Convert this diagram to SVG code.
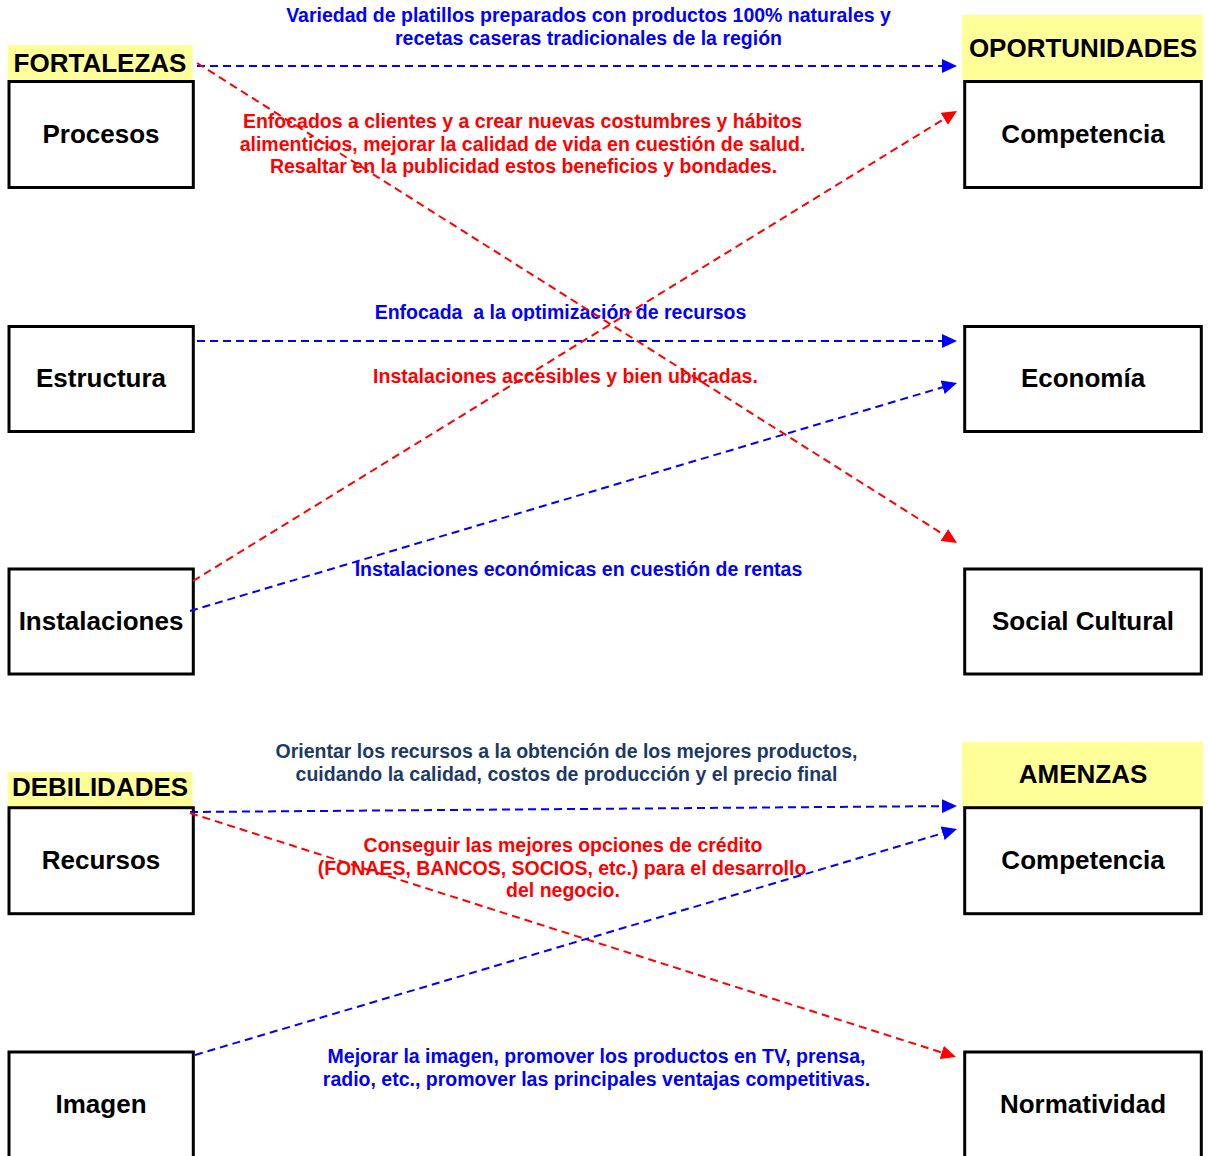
<svg xmlns="http://www.w3.org/2000/svg" width="1208" height="1156" viewBox="0 0 1208 1156">
  <defs>
    <style>
      .box { fill: #ffffff; stroke: #000000; stroke-width: 3; }
      .head { fill: #ffff99; }
      .lbl { font-family: "Liberation Sans", Arial, Helvetica, sans-serif; font-weight: bold; font-size: 26px; fill: #000000; text-anchor: middle; }
      .note { font-family: "Liberation Sans", Arial, Helvetica, sans-serif; font-weight: bold; font-size: 19.5px; text-anchor: middle; }
      .blue { fill: #0000ff; }
      .red { fill: #ff0000; }
      .navy { fill: #1c3a66; }
      .lnB { fill: none; stroke: #0000ff; stroke-width: 2; stroke-dasharray: 8 5; }
      .lnR { fill: none; stroke: #ff0000; stroke-width: 2; stroke-dasharray: 8 5; }
    </style>
    <marker id="arrB" markerUnits="userSpaceOnUse" markerWidth="15" markerHeight="14" refX="3" refY="7" orient="auto">
      <path d="M0,0 L15,7 L0,14 z" fill="#0000ff"/>
    </marker>
    <marker id="arrR" markerUnits="userSpaceOnUse" markerWidth="15" markerHeight="14" refX="3" refY="7" orient="auto">
      <path d="M0,0 L15,7 L0,14 z" fill="#ff0000"/>
    </marker>
    <clipPath id="clipOpt">
      <rect x="0" y="290" width="1208" height="31"/>
    </clipPath>
  </defs>

  <rect width="1208" height="1156" fill="#ffffff"/>

  <!-- section headers -->
  <g id="fortalezas">
    <rect class="head" x="7.5" y="45" width="185" height="35"/>
    <text class="lbl" x="100" y="72">FORTALEZAS</text>
  </g>
  <g id="oportunidades">
    <rect class="head" x="962" y="15" width="241" height="65"/>
    <text class="lbl" x="1083" y="57">OPORTUNIDADES</text>
  </g>
  <g id="debilidades">
    <rect class="head" x="7.5" y="772" width="185" height="35"/>
    <text class="lbl" x="100" y="796">DEBILIDADES</text>
  </g>
  <g id="amenazas">
    <rect class="head" x="962" y="742" width="241" height="65"/>
    <text class="lbl" x="1083" y="783">AMENZAS</text>
  </g>

  <!-- left column -->
  <g id="procesos">
    <rect class="box" x="9" y="81.5" width="184.3" height="106"/>
    <text class="lbl" x="101" y="143">Procesos</text>
  </g>
  <g id="estructura">
    <rect class="box" x="9" y="326.5" width="184.3" height="105"/>
    <text class="lbl" x="101" y="387">Estructura</text>
  </g>
  <g id="instalaciones">
    <rect class="box" x="9" y="569" width="184.3" height="105"/>
    <text class="lbl" x="101" y="630">Instalaciones</text>
  </g>
  <g id="recursos">
    <rect class="box" x="9" y="807.7" width="184.3" height="106"/>
    <text class="lbl" x="101" y="869">Recursos</text>
  </g>
  <g id="imagen">
    <rect class="box" x="9" y="1052" width="184.3" height="120"/>
    <text class="lbl" x="101" y="1113">Imagen</text>
  </g>

  <!-- right column -->
  <g id="competencia">
    <rect class="box" x="964.7" y="81.5" width="236.6" height="106"/>
    <text class="lbl" x="1083" y="143">Competencia</text>
  </g>
  <g id="economia">
    <rect class="box" x="964.7" y="326.5" width="236.6" height="105"/>
    <text class="lbl" x="1083" y="387">Economía</text>
  </g>
  <g id="social-cultural">
    <rect class="box" x="964.7" y="569" width="236.6" height="105"/>
    <text class="lbl" x="1083" y="630">Social Cultural</text>
  </g>
  <g id="competencia-amenaza">
    <rect class="box" x="964.7" y="807.7" width="236.6" height="106"/>
    <text class="lbl" x="1083" y="869">Competencia</text>
  </g>
  <g id="normatividad">
    <rect class="box" x="964.7" y="1052" width="236.6" height="120"/>
    <text class="lbl" x="1083" y="1113">Normatividad</text>
  </g>

  <!-- connector labels -->
  <g id="labels">
    <text class="note blue" x="588.5" y="22">Variedad de platillos preparados con productos 100% naturales y</text>
    <text class="note blue" x="588.5" y="45">recetas caseras tradicionales de la región</text>

    <text class="note red" x="522.5" y="128">Enfocados a clientes y a crear nuevas costumbres y hábitos</text>
    <text class="note red" x="522.5" y="150.5">alimenticios, mejorar la calidad de vida en cuestión de salud.</text>
    <text class="note red" x="523.5" y="173">Resaltar en la publicidad estos beneficios y bondades.</text>

    <text class="note blue" x="560.5" y="319" xml:space="preserve" clip-path="url(#clipOpt)">Enfocada  a la optimización de recursos</text>
    <text class="note red" x="565.5" y="383">Instalaciones accesibles y bien ubicadas.</text>
    <text class="note blue" x="578.5" y="576">Instalaciones económicas en cuestión de rentas</text>

    <text class="note navy" x="566.5" y="758">Orientar los recursos a la obtención de los mejores productos,</text>
    <text class="note navy" x="566.5" y="780.5">cuidando la calidad, costos de producción y el precio final</text>

    <text class="note red" x="563" y="852">Conseguir las mejores opciones de crédito</text>
    <text class="note red" x="562" y="874.5">(FONAES, BANCOS, SOCIOS, etc.) para el desarrollo</text>
    <text class="note red" x="563" y="897">del negocio.</text>

    <text class="note blue" x="596.5" y="1063">Mejorar la imagen, promover los productos en TV, prensa,</text>
    <text class="note blue" x="596.5" y="1086">radio, etc., promover las principales ventajas competitivas.</text>
  </g>

  <!-- connectors -->
  <g id="connectors">
    <line class="lnB" x1="197" y1="66" x2="945" y2="66" marker-end="url(#arrB)"/>
    <line class="lnR" x1="197" y1="63" x2="946.85" y2="536.6" marker-end="url(#arrR)"/>
    <line class="lnB" x1="197" y1="341" x2="945" y2="341" marker-end="url(#arrB)"/>
    <line class="lnR" x1="193" y1="581" x2="946.8" y2="117.3" marker-end="url(#arrR)"/>
    <line class="lnB" x1="190" y1="611" x2="945.5" y2="386.4" marker-end="url(#arrB)"/>
    <line class="lnB" x1="190" y1="812" x2="945" y2="806.1" marker-end="url(#arrB)"/>
    <line class="lnR" x1="190" y1="813" x2="944.6" y2="1053.4" marker-end="url(#arrR)"/>
    <line class="lnB" x1="195" y1="1055" x2="945.5" y2="832.4" marker-end="url(#arrB)"/>
  </g>
</svg>
